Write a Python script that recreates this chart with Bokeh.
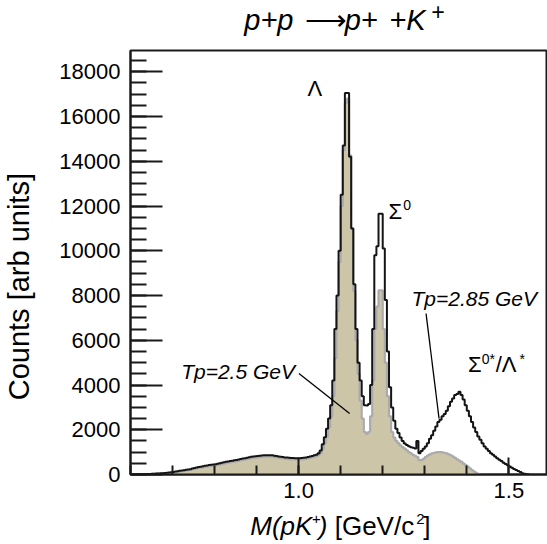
from bokeh.plotting import figure
from bokeh.layouts import column
from bokeh.models import Range1d, SingleIntervalTicker, Label, PrintfTickFormatter
from bokeh.core.properties import value
from bokeh.embed import file_html
from bokeh.resources import INLINE

# ---------------- data ----------------
bin_start = 0.600
bin_width = 0.005

# Tp = 2.85 GeV (black outline histogram), bins from 0.600 in steps of 0.005
counts_tp285 = [
    0, 0, 5, 10, 10, 15, 15, 20, 20, 25,
    30, 35, 40, 45, 55, 60, 70, 80, 90, 100,
    110, 130, 150, 165, 180, 195, 210, 225, 240, 265,
    290, 310, 330, 350, 370, 390, 405, 420, 435, 445,
    455, 480, 500, 525, 545, 565, 585, 600, 620, 635,
    650, 670, 690, 710, 730, 750, 770, 790, 805, 815,
    825, 835, 845, 855, 860, 865, 860, 855, 840, 825,
    810, 795, 780, 765, 755, 745, 740, 735, 730, 730,
    730, 735, 745, 760, 780, 800, 830, 860, 880, 950,
    1070, 1350, 1670, 2050, 2500, 3100, 4200, 6500, 8000, 10000,
    12500, 14700, 17050, 17050, 14200, 11000, 8500, 6500, 5000, 4200,
    3500, 3100, 3080, 3150, 4000, 6500, 9800, 10200, 11650, 11650,
    10100, 7800, 5500, 3900, 3000, 2400, 2050, 1850, 1650, 1500,
    1380, 1320, 1260, 1220, 1190, 1160, 1500, 950, 1050, 1150,
    1250, 1400, 1600, 1750, 1950, 2150, 2350, 2450, 2600, 2700,
    2850, 3050, 3250, 3400, 3550, 3600, 3700, 3550, 3350, 3100,
    2850, 2600, 2350, 2100, 1900, 1700, 1550, 1400, 1250, 1150,
    1050, 950, 880, 800, 730, 660, 600, 530, 470, 410,
    360, 300, 250, 200, 160, 110, 60, 30, 10, 0,
]

# Tp = 2.5 GeV (filled histogram), bins from 0.600 in steps of 0.005
counts_tp25 = [
    0, 0, 5, 5, 10, 10, 15, 15, 20, 20,
    25, 30, 35, 40, 45, 50, 55, 65, 75, 85,
    95, 110, 125, 140, 155, 170, 185, 200, 215, 235,
    255, 270, 290, 305, 320, 340, 355, 370, 385, 395,
    405, 425, 445, 465, 485, 505, 525, 540, 560, 575,
    590, 610, 630, 650, 670, 690, 710, 730, 745, 755,
    765, 775, 785, 795, 800, 805, 800, 795, 780, 765,
    750, 735, 720, 705, 695, 685, 680, 675, 670, 670,
    670, 675, 685, 700, 720, 740, 765, 790, 820, 870,
    950, 1150, 1400, 1700, 2100, 2600, 3500, 5200, 7300, 9500,
    12000, 14500, 16600, 16800, 14260, 11000, 8200, 6000, 4500, 3300,
    2500, 1900, 1820, 1900, 2600, 4200, 6500, 7500, 8230, 8230,
    6500, 5000, 3500, 2600, 1900, 1650, 1500, 1400, 1300, 1220,
    1160, 1080, 1000, 940, 880, 830, 780, 640, 640, 700,
    780, 850, 900, 940, 970, 990, 1000, 1000, 990, 970,
    940, 900, 860, 800, 740, 680, 620, 560, 490, 420,
    350, 280, 200, 130, 70, 30, 0,
]

x_major_interval = 0.5
y_major_interval = 2000

title_parts = ["p+p", "\u27f6", "p+", "+K"]
title_sup = "+"
x_label_parts = ["M(pK", "+", ")", "[GeV/c", "2", "]"]
y_label = "Counts [arb units]"

FONT = "Liberation Sans"
W = 547
LEFT = 127

x_range = Range1d(0.6, 1.592)

# ---------------- main figure ----------------
p = figure(width=W, height=461,
           x_range=x_range, y_range=Range1d(0, 18950),
           output_backend="svg", toolbar_location=None,
           min_border_left=LEFT, min_border_right=0,
           min_border_top=1, min_border_bottom=36)
p.background_fill_color = "white"
p.border_fill_color = "white"
p.grid.visible = False
p.outline_line_color = "#1a1a1a"
p.outline_line_width = 2


def edges_for(counts):
    return [bin_start + i * bin_width for i in range(len(counts) + 1)]


e25 = edges_for(counts_tp25)
y25 = counts_tp25 + [0]
e285 = edges_for(counts_tp285)
y285 = counts_tp285 + [0]

p.varea_step(x=e25, y1=[0] * len(e25), y2=y25, step_mode="after",
             fill_color="#cdc5a8")
p.step(x=e25, y=y25, mode="after", line_color="#ababab", line_width=2.2)
p.step(x=e285, y=y285, mode="after", line_color="#141414", line_width=2)

xa = p.xaxis[0]
xa.ticker = SingleIntervalTicker(interval=x_major_interval, num_minor_ticks=5)
xa.formatter = PrintfTickFormatter(format="%.1f")
xa.major_tick_in = 17
xa.major_tick_out = 0
xa.minor_tick_in = 9
xa.minor_tick_out = 0
xa.major_tick_line_width = 2
xa.minor_tick_line_width = 2
xa.major_tick_line_color = "#1a1a1a"
xa.minor_tick_line_color = "#1a1a1a"
xa.axis_line_width = 2
xa.axis_line_color = "#1a1a1a"
xa.major_label_text_font = FONT
xa.major_label_text_font_size = "22px"
xa.major_label_text_color = "black"
xa.major_label_standoff = 8

ya = p.yaxis[0]
ya.ticker = SingleIntervalTicker(interval=y_major_interval, num_minor_ticks=4)
ya.major_tick_in = 32
ya.major_tick_out = 0
ya.minor_tick_in = 16
ya.minor_tick_out = 0
ya.major_tick_line_width = 2
ya.minor_tick_line_width = 2
ya.major_tick_line_color = "#1a1a1a"
ya.minor_tick_line_color = "#1a1a1a"
ya.axis_line_width = 2
ya.axis_line_color = "#1a1a1a"
ya.major_label_text_font = FONT
ya.major_label_text_font_size = "22px"
ya.major_label_text_color = "black"
ya.major_label_standoff = 10
ya.axis_label = y_label + "\u00a0" * 6
ya.axis_label_text_font = FONT
ya.axis_label_text_font_size = "29px"
ya.axis_label_text_font_style = "normal"
ya.axis_label_text_color = "black"
ya.axis_label_standoff = 21


def lab(x, y, text, size, style="normal", align="left"):
    p.add_layout(Label(x=x, y=y, text=text, text_font=FONT,
                       text_font_size=size, text_font_style=style,
                       text_align=align, text_baseline="alphabetic",
                       text_color="black"))


# annotations inside the frame
lab(1.0386, 17250, "\u039b", "22px", align="center")
lab(1.2135, 11760, "\u03a3", "22px")
lab(1.2490, 12050, "0", "14px")
lab(1.2683, 7850, "Tp=2.85 GeV", "21px", "italic")
lab(0.9913, 4590, "Tp=2.5 GeV", "21px", "italic", align="right")
lab(1.4026, 4920, "\u03a3", "22px")
lab(1.4357, 5150, "0*", "14px")
lab(1.4688, 4920, "/\u039b", "22px")
lab(1.5256, 5150, "*", "14px")

p.segment(x0=[1.0007, 1.3031], y0=[4515, 7197],
          x1=[1.1213, 1.3340], y1=[2727, 2503],
          line_color="black", line_width=1.3)


# ---------------- title strip and x-label strip ----------------
def strip(height):
    f = figure(width=W, height=height, x_range=x_range,
               y_range=Range1d(0, height),
               x_axis_type=None, y_axis_type=None,
               output_backend="svg", toolbar_location=None,
               min_border_left=LEFT, min_border_right=0,
               min_border_top=0, min_border_bottom=0)
    f.outline_line_color = None
    f.grid.visible = False
    f.background_fill_color = "white"
    f.border_fill_color = "white"
    return f


def txt(f, x, y, s, size, style="normal"):
    f.text(x=[x], y=[y], text=[s], text_font=value(FONT),
           text_font_size=value(size), text_font_style=value(style),
           text_align=value("left"), text_baseline=value("alphabetic"),
           text_color="black")


top = strip(49)
txt(top, 0.8707, 30, title_parts[0], "29px", "italic")
txt(top, 1.0149, 30, title_parts[1], "29px", "normal")
txt(top, 1.1095, 30, title_parts[2], "29px", "italic")
txt(top, 1.2158, 30, title_parts[3], "29px", "italic")
txt(top, 1.3151, 38, title_sup, "23px", "italic")

bot = strip(34)
txt(bot, 0.8849, 19, x_label_parts[0], "26px", "italic")
txt(bot, 1.0314, 26, x_label_parts[1], "15px", "italic")
txt(bot, 1.0480, 19, x_label_parts[2], "26px", "italic")
txt(bot, 1.0858, 19, x_label_parts[3], "26px", "normal")
txt(bot, 1.2797, 26, x_label_parts[4], "15px", "normal")
txt(bot, 1.2963, 19, x_label_parts[5], "26px", "normal")

layout = column(top, p, bot, spacing=0)

open("out.html", "w").write(file_html(layout, INLINE))
